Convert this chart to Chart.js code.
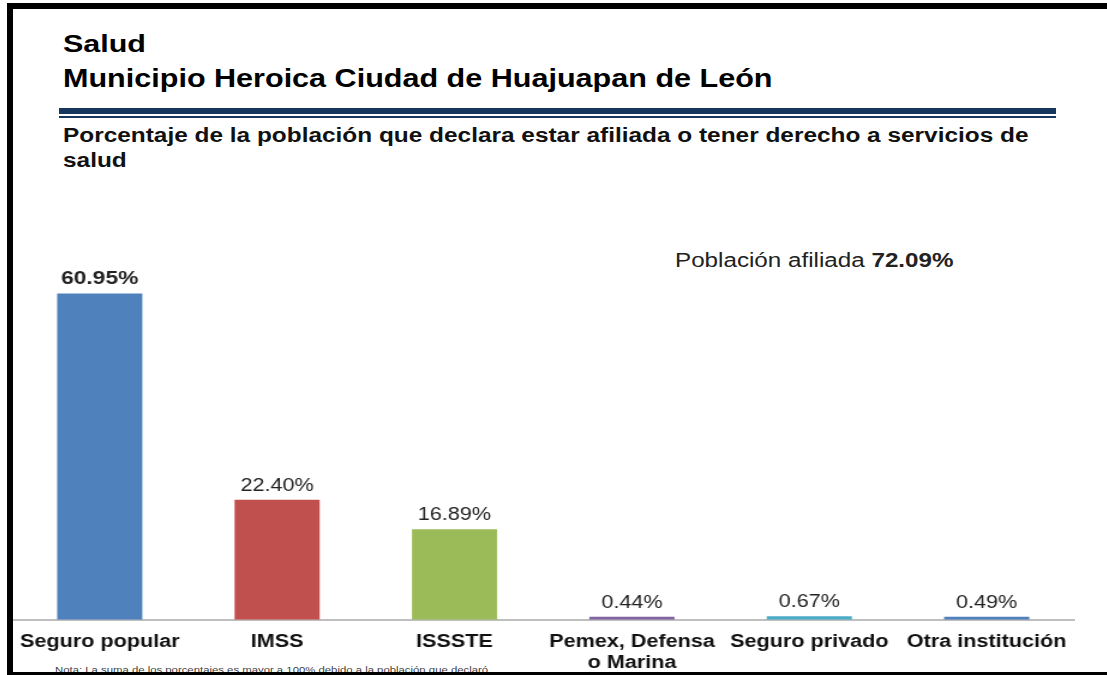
<!DOCTYPE html>
<html>
<head>
<meta charset="utf-8">
<script src="https://cdn.jsdelivr.net/npm/chart.js@4.4.1/dist/chart.umd.min.js"></script>
<style>
body { margin:0; width:1107px; height:675px; position:relative; overflow:hidden; background:#fff; font-family:"Liberation Sans", Arial, sans-serif; color:#000; }
.frame-top { position:absolute; left:7px; top:3px; width:1100px; height:6px; background:#000; }
.frame-left { position:absolute; left:7px; top:3px; width:6px; height:672px; background:#000; }
.frame-bottom { position:absolute; left:7px; top:672px; width:1100px; height:3px; background:#000; }
/* the source picture is stretched sideways, so texts get a scaleX */
.wide { transform-origin:0 0; white-space:nowrap; }
.t1 { position:absolute; left:63px; top:30px; font-size:24px; font-weight:bold; transform:scaleX(1.27); }
.t2 { position:absolute; left:63px; top:63px; font-size:26px; font-weight:bold; transform:scaleX(1.175); }
.bar-thick { position:absolute; left:59px; top:108px; width:997px; height:6px; background:#17375e; }
.bar-thin { position:absolute; left:59px; top:116px; width:997px; height:2px; background:#17375e; }
.sub { position:absolute; left:63px; top:123px; font-size:20px; font-weight:bold; line-height:25px; color:#111; transform:scaleX(1.22); }
.afil { position:absolute; left:675px; top:249px; font-size:20px; color:#222; transform:scaleX(1.21); }
.note { position:absolute; left:55px; top:665px; font-size:9px; color:#444; transform:scaleX(1.26); }
#wrap { position:absolute; left:11px; top:235px; width:887px; height:442px; transform:scaleX(1.2); transform-origin:0 0; }
</style>
</head>
<body>
<div class="wide t1">Salud</div>
<div class="wide t2">Municipio Heroica Ciudad de Huajuapan de León</div>
<div class="bar-thick"></div>
<div class="bar-thin"></div>
<div class="wide sub">Porcentaje de la población que declara estar afiliada o tener derecho a servicios de<br>salud</div>
<div class="wide afil">Población afiliada <b>72.09%</b></div>
<div class="wide note">Nota: La suma de los porcentajes es mayor a 100% debido a la población que declaró</div>
<div id="wrap"><canvas id="chart"></canvas></div>
<div class="frame-top"></div>
<div class="frame-left"></div>
<div class="frame-bottom"></div>

<script>
var categories = ["Seguro popular", "IMSS", "ISSSTE", ["Pemex, Defensa", "o Marina"], "Seguro privado", "Otra institución"];
var percentages = [60.95, 22.40, 16.89, 0.44, 0.67, 0.49];
var barColors = ["#4f81bd", "#c0504d", "#9bbb59", "#8064a2", "#4bacc6", "#4f81bd"];

// labels on top of the bars, first one in bold
var valueLabels = {
    id: 'valueLabels',
    afterDatasetsDraw: function (chart) {
        var ctx = chart.ctx;
        var meta = chart.getDatasetMeta(0);
        ctx.save();
        ctx.textAlign = 'center';
        ctx.textBaseline = 'alphabetic';
        ctx.fillStyle = '#222';
        meta.data.forEach(function (bar, i) {
            ctx.font = (i === 0 ? 'bold 19px' : '18px') + ' "Liberation Sans", Arial, sans-serif';
            ctx.fillText(percentages[i].toFixed(2) + '%', bar.x, bar.y - 9);
        });
        ctx.restore();
    }
};

var myChart = new Chart(document.getElementById('chart'), {
    type: 'bar',
    data: {
        labels: categories,
        datasets: [{
            data: percentages,
            backgroundColor: barColors,
            barPercentage: 0.48,
            categoryPercentage: 1.0,
            minBarLength: 3
        }]
    },
    options: {
        responsive: true,
        maintainAspectRatio: false,
        animation: false,
        layout: { padding: { top: 10, bottom: 0 } },
        plugins: { legend: { display: false }, tooltip: { enabled: false } },
        scales: {
            y: { display: false, min: 0, max: 70 },
            x: {
                grid: { display: false },
                border: { display: true, color: '#bfbfbf', width: 2 },
                ticks: {
                    color: '#111',
                    padding: 3,
                    maxRotation: 0,
                    autoSkip: false,
                    font: { family: '"Liberation Sans", Arial, sans-serif', size: 18, weight: 'bold', lineHeight: 1.2 }
                }
            }
        }
    },
    plugins: [valueLabels]
});
</script>
</body>
</html>
